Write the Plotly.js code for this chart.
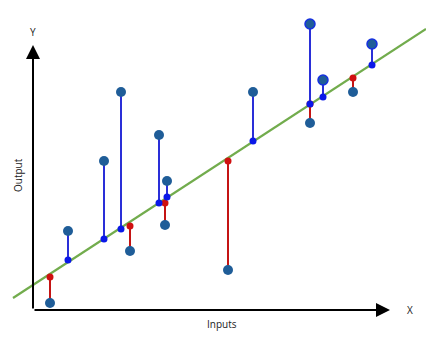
<!DOCTYPE html>
<html><head><meta charset="utf-8">
<script src="https://cdn.plot.ly/plotly-3.0.1.min.js"></script>
<style>html,body{margin:0;padding:0;background:#fff}#c{width:426px;height:342px}</style>
</head><body><div id="c"></div>
<script>
// Inputs (x) and outputs (y), in chart units (y grows downward on this canvas)
var inputs   = [50, 68, 104, 121, 130, 159, 167, 165, 228, 253, 310, 310, 323, 353, 372];
var observed = [303, 231, 161, 92, 251, 135, 181, 225, 270, 92, 24, 123, 80, 92, 44];
var fitted   = [277, 260, 239, 229, 226, 203, 197, 203, 161, 141, 104, 104, 97, 78, 65];
var ringed   = [false,false,false,false,false,false,false,false,false,false,true,false,true,false,true];
var fitLineX = [13, 426];
var fitLineY = [298, 29];

var blueLX=[],blueLY=[],redLX=[],redLY=[],blueFX=[],blueFY=[],redFX=[],redFY=[];
for (var i=0;i<inputs.length;i++){
  if (observed[i] < fitted[i]) { // above the line
    blueLX.push(inputs[i],inputs[i],null); blueLY.push(observed[i],fitted[i],null);
    blueFX.push(inputs[i]); blueFY.push(fitted[i]);
  } else {
    redLX.push(inputs[i],inputs[i],null); redLY.push(observed[i],fitted[i],null);
    redFX.push(inputs[i]); redFY.push(fitted[i]);
  }
}
var ringCol = ringed.map(function(r){return r ? '#1530e0' : '#1f5d98';});
var ringW = ringed.map(function(r){return r ? 1.5 : 0;});

var traces = [
  {x:fitLineX, y:fitLineY, mode:'lines', line:{color:'#72ac4d', width:2.2}, hoverinfo:'skip'},
  {x:blueLX, y:blueLY, mode:'lines', line:{color:'#2a2fd8', width:2}, hoverinfo:'skip'},
  {x:redLX, y:redLY, mode:'lines', line:{color:'#c41414', width:2}, hoverinfo:'skip'},
  {x:redFX, y:redFY, mode:'markers', marker:{color:'#d01010', size:7}, hoverinfo:'skip'},
  {x:blueFX, y:blueFY, mode:'markers', marker:{color:'#0a18e8', size:7}, hoverinfo:'skip'},
  {x:inputs, y:observed, mode:'markers', marker:{color:'#1f5d98', size:10, line:{color:ringCol, width:ringW}}, hoverinfo:'skip'}
];

var layout = {
  width:426, height:342, margin:{l:0,r:0,t:0,b:0},
  paper_bgcolor:'#fff', plot_bgcolor:'#fff', showlegend:false,
  xaxis:{range:[0,426], visible:false, fixedrange:true},
  yaxis:{range:[342,0], visible:false, fixedrange:true},
  font:{family:'Open Sans, Liberation Sans, sans-serif', size:10, color:'#222'},
  annotations:[
    {x:33, y:45, ax:33, ay:310, xref:'x', yref:'y', axref:'x', ayref:'y', text:'', showarrow:true, arrowhead:2, arrowsize:1.4, arrowwidth:2, arrowcolor:'#000'},
    {x:390, y:310, ax:33, ay:310, xref:'x', yref:'y', axref:'x', ayref:'y', text:'', showarrow:true, arrowhead:2, arrowsize:1.4, arrowwidth:2, arrowcolor:'#000'},
    {x:33, y:32, xref:'x', yref:'y', text:'Y', showarrow:false},
    {x:410, y:310, xref:'x', yref:'y', text:'X', showarrow:false},
    {x:222, y:324, xref:'x', yref:'y', text:'Inputs', showarrow:false},
    {x:18, y:175, xref:'x', yref:'y', text:'Output', showarrow:false, textangle:-90}
  ]
};
Plotly.newPlot('c', traces, layout, {staticPlot:true, displayModeBar:false});
</script></body></html>
